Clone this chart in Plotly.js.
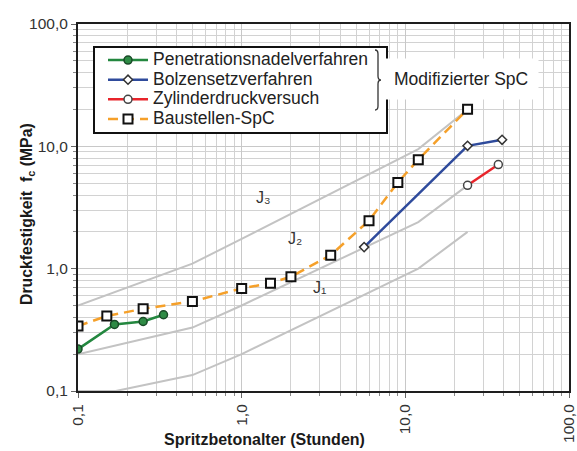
<!DOCTYPE html>
<html><head><meta charset="utf-8">
<script src="https://cdn.plot.ly/plotly-3.0.1.min.js"></script>
<style>html,body{margin:0;padding:0;background:#fff}#chart{width:577px;height:451px}</style>
</head><body><div id="chart"></div>
<script>
// ---- data ----
const seriesNames = ["Penetrationsnadelverfahren", "Bolzensetzverfahren", "Zylinderdruckversuch", "Baustellen-SpC"];
const penX = [0.1, 0.167, 0.25, 0.333];
const penY = [0.22, 0.35, 0.37, 0.42];
const bolzX = [5.6, 24, 39];
const bolzY = [1.5, 10.1, 11.3];
const zylX = [24, 37];
const zylY = [4.8, 7.1];
const bauX = [0.1, 0.15, 0.25, 0.5, 1, 1.5, 2, 3.5, 6, 9, 12, 24];
const bauY = [0.34, 0.41, 0.47, 0.54, 0.69, 0.76, 0.86, 1.29, 2.47, 5.07, 7.78, 20.1];
const j1X = [0.1, 0.17, 0.5, 1, 12, 24];
const j1Y = [0.1, 0.1, 0.135, 0.2, 1.0, 2.0];
const j2X = [0.1, 0.5, 1, 12, 24];
const j2Y = [0.2, 0.33, 0.5, 2.4, 4.8];
const j3X = [0.1, 0.5, 1, 12, 24];
const j3Y = [0.5, 1.1, 1.75, 9.5, 20];
const jLabelText = ["J\u2081", "J\u2082", "J\u2083"];
const jLabelX = [3.0, 2.12, 1.36];
const jLabelY = [0.70, 1.75, 3.84];
const tickVals = [0.1, 1, 10, 100];
const tickText = ["0,1", "1,0", "10,0", "100,0"];
const groupLabel = "Modifizierter SpC";
const xTitle = "Spritzbetonalter (Stunden)";
const yTitle = 'Druckfestigkeit  f<span style="font-size:11px;baseline-shift:-3px">c</span> (MPa)';

// ---- layout helpers ----
const W = 577, H = 451, M = {l: 78, r: 8, t: 24, b: 60};
const PW = W - M.l - M.r, PH = H - M.t - M.b;
const px = x => (x - M.l) / PW;
const py = y => (H - M.b - y) / PH;
const minorVals = [];
[0.1, 1, 10].forEach(d => { for (let k = 2; k <= 9; k++) minorVals.push(+(d * k).toPrecision(3)); });

const FONT = "Liberation Sans, Arial, sans-serif";
const grayLine = {color: "#c3c3c3", width: 2};
const legendName = s => '<span style="font-size:17.5px">' + s + '</span>';

const traces = [
  {x: j1X, y: j1Y, mode: "lines", line: grayLine, showlegend: false, hoverinfo: "skip"},
  {x: j2X, y: j2Y, mode: "lines", line: grayLine, showlegend: false, hoverinfo: "skip"},
  {x: j3X, y: j3Y, mode: "lines", line: grayLine, showlegend: false, hoverinfo: "skip"},
  {x: bauX, y: bauY, name: legendName(seriesNames[3]), legendrank: 4, mode: "lines+markers",
   line: {color: "#f5a02a", width: 2.5, dash: "10px,6px"},
   marker: {symbol: "square", size: 9, color: "#ffffff", line: {color: "#111111", width: 2}}},
  {x: penX, y: penY, name: legendName(seriesNames[0]), legendrank: 1, mode: "lines+markers",
   line: {color: "#23873f", width: 2.5},
   marker: {symbol: "circle", size: 8, color: "#2e8b45", line: {color: "#1a4a28", width: 1.5}}},
  {x: bolzX, y: bolzY, name: legendName(seriesNames[1]), legendrank: 2, mode: "lines+markers",
   line: {color: "#2f4b9c", width: 2.5},
   marker: {symbol: "diamond", size: 7, color: "#ffffff", line: {color: "#333333", width: 1.5}}},
  {x: zylX, y: zylY, name: legendName(seriesNames[2]), legendrank: 3, mode: "lines+markers",
   line: {color: "#e8242b", width: 2.5},
   marker: {symbol: "circle", size: 8, color: "#ffffff", line: {color: "#444444", width: 1.5}}}
];

const axisCommon = {
  type: "log", range: [-1, 2], tickmode: "array", tickvals: tickVals, ticktext: tickText,
  showline: true, linecolor: "#1e1e1e", linewidth: 2, mirror: true,
  ticks: "outside", ticklen: 5, tickwidth: 1, tickcolor: "#666",
  showgrid: true, gridcolor: "#c8c8c8", gridwidth: 1, zeroline: false,
  tickfont: {family: FONT, size: 15.5, color: "#333"},
  ticklabeloverflow: "allow",
  minor: {tickmode: "array", tickvals: minorVals, showgrid: true, gridcolor: "#d2d2d2", gridwidth: 1,
          ticks: "outside", ticklen: 3, tickcolor: "#888"},
  fixedrange: true
};

const bracePts = [[375, 50], [378, 50], [378, 54], [378, 76], [378, 80], [381, 80], [378, 80], [378, 84], [378, 106], [378, 110], [375, 110]];
const b = bracePts.map(p => px(p[0]).toFixed(5) + "," + py(p[1]).toFixed(5));
const bracePath = `M${b[0]} Q${b[1]} ${b[2]} L${b[3]} Q${b[4]} ${b[5]} Q${b[6]} ${b[7]} L${b[8]} Q${b[9]} ${b[10]}`;

const annotations = jLabelText.map((t, i) => ({
  x: Math.log10(jLabelX[i]), y: Math.log10(jLabelY[i]), xref: "x", yref: "y",
  text: t, showarrow: false, font: {family: FONT, size: 16, color: "#333"}
}));
annotations.push({
  x: px(383), y: py(79), xref: "paper", yref: "paper", xanchor: "left", yanchor: "middle",
  text: groupLabel, showarrow: false, bgcolor: "#ffffff", borderpad: 10,
  font: {family: FONT, size: 17.5, color: "#222"}
});
annotations.push({
  x: px(264), y: py(439), xref: "paper", yref: "paper", xanchor: "center", yanchor: "middle",
  text: xTitle, showarrow: false, font: {family: FONT, size: 16, color: "#1a1a1a", weight: "bold"}
});
annotations.push({
  x: px(27), y: py(214), xref: "paper", yref: "paper", xanchor: "center", yanchor: "middle",
  text: yTitle, textangle: -90, showarrow: false, font: {family: FONT, size: 15.8, color: "#1a1a1a", weight: "bold"}
});

const layout = {
  width: W, height: H, margin: M, paper_bgcolor: "#ffffff", plot_bgcolor: "#ffffff",
  font: {family: FONT, color: "#222"},
  xaxis: Object.assign({}, axisCommon, {tickangle: -90}),
  yaxis: Object.assign({}, axisCommon, {}),
  showlegend: true,
  legend: {x: px(103), y: py(45.2), xanchor: "left", yanchor: "top", bgcolor: "rgba(0,0,0,0)",
           borderwidth: 0, itemwidth: 40, traceorder: "normal",
           font: {family: FONT, size: 12.8, color: "#222"}},
  shapes: [
    {type: "rect", xref: "paper", yref: "paper", x0: px(94), x1: px(387), y0: py(133), y1: py(47),
     fillcolor: "#ffffff", line: {color: "#111", width: 2}, layer: "above"},
    {type: "path", xref: "paper", yref: "paper", path: bracePath, line: {color: "#333", width: 1.3}, layer: "above"}
  ],
  annotations: annotations
};

Plotly.newPlot("chart", traces, layout, {displayModeBar: false, staticPlot: true});
</script>
</body></html>
